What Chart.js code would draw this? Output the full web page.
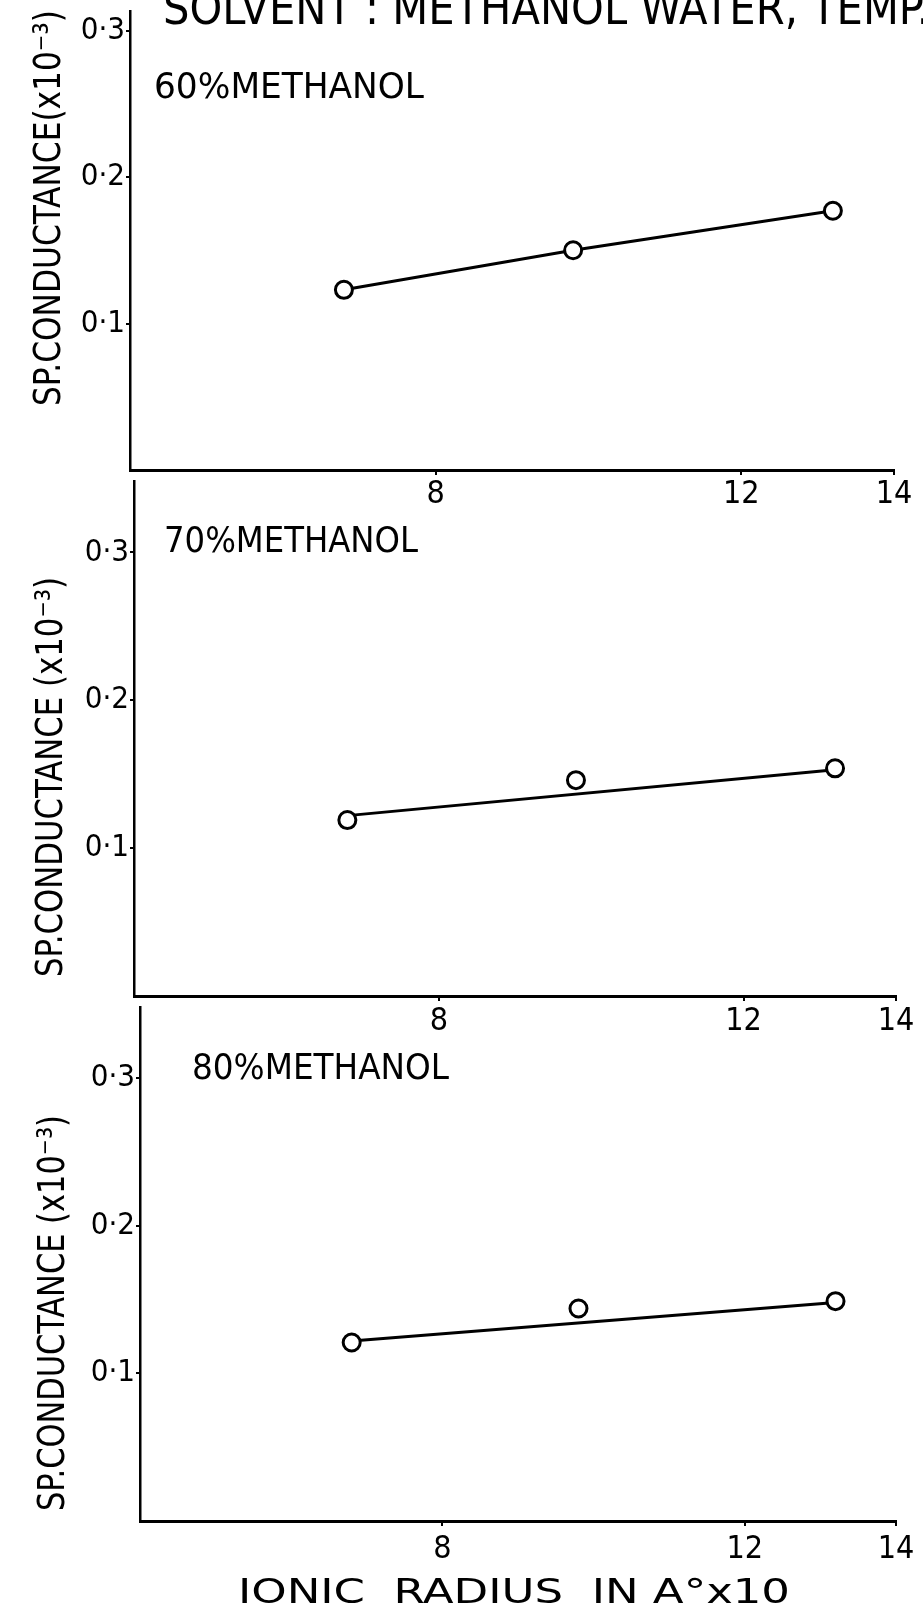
<!DOCTYPE html>
<html>
<head>
    <title>Sp. conductance vs ionic radius</title>
    <meta charset="utf-8">
    <script src="https://cdn.jsdelivr.net/npm/chart.js"></script>
    <style>
    body {
        margin: 0;
        background: #fff;
    }
    .sheet {
        position: relative;
        width: 923px;
        height: 1611px;
        overflow: hidden;
    }
    .sheet canvas {
        position: absolute;
        left: 0;
    }
    </style>
</head>
<body>
<div class="sheet">
    <canvas id="panel60" width="923" height="520" style="top:0px"></canvas>
    <canvas id="panel70" width="923" height="576" style="top:470px"></canvas>
    <canvas id="panel80" width="923" height="615" style="top:996px"></canvas>
</div>

<script>
    // ionic radius (A x 10) of the three salts
    const radii = [6.8, 9.8, 13.2];

    // sp. conductance (x 10^-3) in each solvent mixture
    const cond60 = [0.123, 0.150, 0.177];
    const cond70 = [0.119, 0.146, 0.154];
    const cond80 = [0.121, 0.144, 0.149];

    // straight lines drawn through the 70% and 80% points (first and last radius)
    const fit70 = [0.122, 0.153];
    const fit80 = [0.122, 0.148];

    const xTicks = [8, 12, 14];
    const yTicks = [0.1, 0.2, 0.3];

    const FONT = "'DejaVu Sans Condensed', 'DejaVu Sans', sans-serif";

    // free text (titles, panel names) squeezed to a given width
    function notes(top, items) {
        return {
            id: 'notes',
            afterDraw(chart) {
                const ctx = chart.ctx;
                items.forEach(n => {
                    ctx.save();
                    ctx.translate(n.x, n.y - top);
                    if (n.rotate) ctx.rotate(-Math.PI / 2);
                    ctx.font = n.size + 'px ' + FONT;
                    ctx.fillStyle = '#000';
                    ctx.textAlign = 'left';
                    ctx.textBaseline = 'alphabetic';
                    const w = ctx.measureText(n.text).width;
                    ctx.scale(n.width / w, 1);
                    ctx.fillText(n.text, 0, 0);
                    ctx.restore();
                });
            }
        };
    }

    function makePanel(id, cfg) {
        const datasets = [{
            data: radii.map((x, i) => ({ x: x, y: cfg.values[i] })),
            showLine: !cfg.fit,
            borderColor: '#000',
            borderWidth: 3,
            pointRadius: 8.5,
            pointBorderWidth: 3,
            pointBackgroundColor: '#fff',
            pointBorderColor: '#000'
        }];
        if (cfg.fit) {
            datasets.push({
                data: [{ x: radii[0], y: cfg.fit[0] }, { x: radii[radii.length - 1], y: cfg.fit[1] }],
                showLine: true,
                borderColor: '#000',
                borderWidth: 3,
                pointRadius: 0
            });
        }

        new Chart(document.getElementById(id), {
            type: 'scatter',
            data: { datasets: datasets },
            options: {
                responsive: false,
                animation: false,
                layout: { padding: { left: 0, top: 0, right: 923 - cfg.right, bottom: 0 } },
                plugins: {
                    legend: { display: false },
                    tooltip: { enabled: false }
                },
                scales: {
                    x: {
                        type: 'linear',
                        min: 4,
                        max: 14,
                        afterBuildTicks: s => { s.ticks = xTicks.map(v => ({ value: v })); },
                        afterFit: s => { s.height = cfg.xh; s.paddingLeft = 0; s.paddingRight = 0; },
                        grid: { drawOnChartArea: false, tickLength: 5, color: '#000', lineWidth: 2 },
                        border: { color: '#000', width: 3 },
                        ticks: {
                            color: '#000',
                            font: { family: FONT, size: 32 },
                            padding: cfg.xpad,
                            maxRotation: 0,
                            autoSkip: false
                        }
                    },
                    y: {
                        min: 0,
                        max: cfg.ymax,
                        afterBuildTicks: s => { s.ticks = yTicks.map(v => ({ value: v })); },
                        afterFit: s => { s.width = cfg.left; s.paddingTop = 0; s.paddingBottom = 0; },
                        grid: { drawOnChartArea: false, tickLength: 4, color: '#000', lineWidth: 2 },
                        border: { color: '#000', width: 2.5 },
                        ticks: {
                            color: '#000',
                            font: { family: FONT, size: 31 },
                            padding: 1,
                            autoSkip: false,
                            callback: v => v.toFixed(1).replace('.', '·')
                        }
                    }
                }
            },
            plugins: [notes(cfg.top, cfg.notes)]
        });
    }

    makePanel('panel60', {
        top: 0, left: 130, right: 894, xh: 50, xpad: 0, ymax: 0.313,
        values: cond60,
        notes: [
            { text: 'SOLVENT : METHANOL WATER, TEMP.', x: 163, y: 24, size: 46, width: 767 },
            { text: '60%METHANOL', x: 154, y: 98, size: 36, width: 270 },
            { text: 'SP.CONDUCTANCE(x10⁻³)', x: 60, y: 406, size: 38, width: 396, rotate: true }
        ]
    });

    makePanel('panel70', {
        top: 470, left: 134, right: 896, xh: 50, xpad: 1, ymax: 0.348,
        values: cond70, fit: fit70,
        notes: [
            { text: '70%METHANOL', x: 164, y: 552, size: 36, width: 254 },
            { text: 'SP.CONDUCTANCE (x10⁻³)', x: 62, y: 977, size: 37, width: 400, rotate: true }
        ]
    });

    makePanel('panel80', {
        top: 996, left: 140, right: 896, xh: 90, xpad: 4, ymax: 0.348,
        values: cond80, fit: fit80,
        notes: [
            { text: '80%METHANOL', x: 192, y: 1079, size: 36, width: 257 },
            { text: 'SP.CONDUCTANCE (x10⁻³)', x: 64, y: 1511, size: 38, width: 396, rotate: true },
            { text: 'IONIC  RADIUS  IN A°x10', x: 238, y: 1603, size: 34, width: 552 }
        ]
    });
</script>
</body>
</html>
